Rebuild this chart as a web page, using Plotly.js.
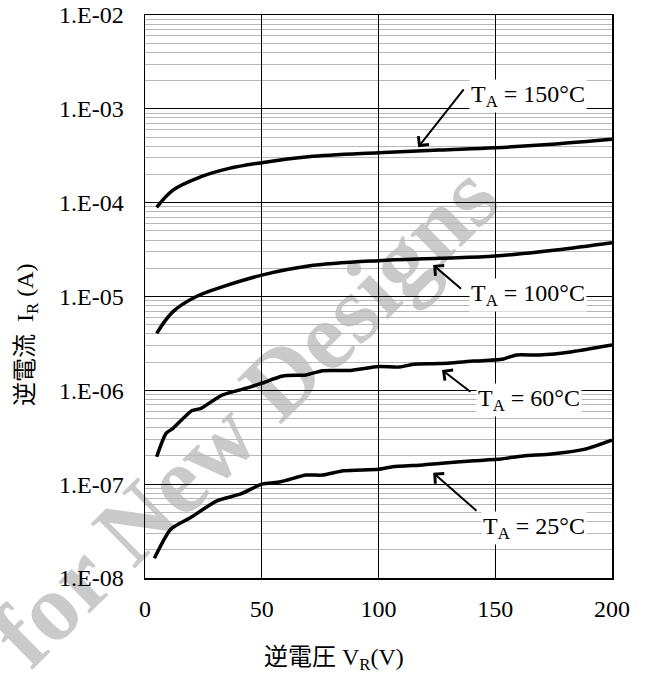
<!DOCTYPE html>
<html>
<head>
<meta charset="utf-8">
<script src="https://cdn.plot.ly/plotly-3.0.1.min.js"></script>
<style>html,body{margin:0;padding:0;background:#fff;}#chart{width:645px;height:678px;}</style>
</head>
<body>
<div id="chart"></div>
<script>
// Reverse voltage (V) and reverse current (A) per ambient temperature
const x150 = [5, 12, 24, 36, 50, 70, 100, 126, 150, 176, 200];
const y150 = [8.9e-5, 1.36e-4, 1.89e-4, 2.32e-4, 2.67e-4, 3.09e-4, 3.41e-4, 3.64e-4, 3.85e-4, 4.22e-4, 4.73e-4];

const x100 = [5, 12, 22, 34, 50, 70, 100, 126, 150, 176, 200];
const y100 = [4.05e-6, 6.9e-6, 1.0e-5, 1.29e-5, 1.69e-5, 2.11e-5, 2.41e-5, 2.55e-5, 2.7e-5, 3.13e-5, 3.74e-5];

const x60 = [5, 9, 12, 20, 24, 33, 45, 50, 59, 69, 76, 88, 100, 109, 115, 126, 141, 153, 159, 169, 183, 200];
const y60 = [1.96e-7, 3.48e-7, 3.94e-7, 6.07e-7, 6.43e-7, 8.9e-7, 1.08e-6, 1.19e-6, 1.42e-6, 1.46e-6, 1.62e-6, 1.63e-6, 1.79e-6, 1.77e-6, 1.9e-6, 1.93e-6, 2.05e-6, 2.14e-6, 2.38e-6, 2.38e-6, 2.58e-6, 3.04e-6];

const x25 = [4, 11, 19, 31, 41, 50, 58, 69, 76, 85, 100, 106, 119, 126, 141, 151, 162, 174, 188, 200];
const y25 = [1.62e-8, 3.31e-8, 4.33e-8, 6.67e-8, 7.86e-8, 1.0e-7, 1.06e-7, 1.25e-7, 1.25e-7, 1.39e-7, 1.44e-7, 1.53e-7, 1.6e-7, 1.66e-7, 1.78e-7, 1.84e-7, 2.0e-7, 2.1e-7, 2.35e-7, 2.95e-7];

const seriesNames = ['T<sub>A</sub> = 150°C', 'T<sub>A</sub> = 100°C', 'T<sub>A</sub> = 60°C', 'T<sub>A</sub> = 25°C'];

const yTickVals = [1e-8, 1e-7, 1e-6, 1e-5, 1e-4, 1e-3, 1e-2];
const yTickText = ['1.E-08', '1.E-07', '1.E-06', '1.E-05', '1.E-04', '1.E-03', '1.E-02'];
const xTickVals = [0, 50, 100, 150, 200];

// label text centre and arrow (head / tail) positions, per series
const labelPos = [[164, 1.37e-3], [164, 1.04e-5], [164.5, 7.9e-7], [166.6, 3.4e-8]];
const arrowHead = [[117, 3.9e-4], [123.4, 2.17e-5], [127.2, 1.65e-6], [123.4, 1.32e-7]];
const arrowTail = [[137, 1.67e-3], [136, 1.17e-5], [140, 9.4e-7], [142.6, 5.05e-8]];

const serif = 'Liberation Serif, Times New Roman, serif';
const cjk = 'Liberation Serif, Noto Sans CJK JP, serif';

const minorVals = [];
for (let d = -8; d < -2; d++) {
  for (let k = 2; k <= 9; k++) minorVals.push(k * Math.pow(10, d));
}

const lineStyle = {color: '#000', width: 3.5};
const traces = [
  {x: x150, y: y150, mode: 'lines', line: Object.assign({shape: 'spline', smoothing: 1}, lineStyle), name: seriesNames[0]},
  {x: x100, y: y100, mode: 'lines', line: Object.assign({shape: 'spline', smoothing: 1}, lineStyle), name: seriesNames[1]},
  {x: x60, y: y60, mode: 'lines', line: Object.assign({shape: 'spline', smoothing: 0.6}, lineStyle), name: seriesNames[2]},
  {x: x25, y: y25, mode: 'lines', line: Object.assign({shape: 'spline', smoothing: 0.6}, lineStyle), name: seriesNames[3]}
];

const annotations = [];
for (let i = 0; i < seriesNames.length; i++) {
  annotations.push({
    x: arrowHead[i][0], y: Math.log10(arrowHead[i][1]), xref: 'x', yref: 'y',
    ax: arrowTail[i][0], ay: Math.log10(arrowTail[i][1]), axref: 'x', ayref: 'y',
    text: '', showarrow: true, arrowhead: 4, arrowsize: 1.3, arrowwidth: 2, arrowcolor: '#000', standoff: 0
  });
  annotations.push({
    x: labelPos[i][0], y: Math.log10(labelPos[i][1]), xref: 'x', yref: 'y',
    text: seriesNames[i], showarrow: false, bgcolor: '#fff', borderpad: 1,
    font: {family: serif, size: 24, color: '#000'}
  });
}
annotations.push({
  x: (334 - 145) / 467, y: (578 - 659) / 563, xref: 'paper', yref: 'paper',
  xanchor: 'center', yanchor: 'middle',
  text: '逆電圧 V<sub>R</sub>(V)', showarrow: false,
  font: {family: cjk, size: 24, color: '#000'}
});
annotations.push({
  x: (27 - 145) / 467, y: (578 - 334) / 563, xref: 'paper', yref: 'paper',
  xanchor: 'center', yanchor: 'middle',
  text: '逆電流  I<sub>R</sub> (A)', showarrow: false, textangle: -90,
  font: {family: cjk, size: 24, color: '#000'}
});

const layout = {
  width: 645, height: 678,
  margin: {l: 145, r: 33, t: 15, b: 100},
  paper_bgcolor: '#fff', plot_bgcolor: '#fff',
  showlegend: false,
  xaxis: {
    range: [0, 200], tickvals: xTickVals, ticks: '', ticklabelstandoff: 9,
    showgrid: true, gridcolor: '#000', gridwidth: 1, zeroline: false,
    showline: true, linecolor: '#000', linewidth: 1.5, mirror: true,
    tickfont: {family: serif, size: 24, color: '#000'}
  },
  yaxis: {
    type: 'log', range: [-8, -2], tickvals: yTickVals, ticktext: yTickText, ticks: '',
    ticklabelstandoff: 15,
    showgrid: true, gridcolor: '#000', gridwidth: 1, zeroline: false,
    showline: true, linecolor: '#000', linewidth: 1.5, mirror: true,
    tickfont: {family: serif, size: 24, color: '#000'},
    minor: {tickmode: 'array', tickvals: minorVals, showgrid: true, gridcolor: '#b8b8b8', gridwidth: 1, ticks: ''}
  },
  shapes: [{
    type: 'line', xref: 'paper', yref: 'paper', layer: 'between',
    x0: (62 - 145) / 467, y0: (578 - 660) / 563, x1: (492 - 145) / 467, y1: (578 - 236) / 563,
    line: {width: 0, color: 'rgba(0,0,0,0)'},
    label: {text: 'for New Designs', textposition: 'middle', textangle: 'auto',
      font: {family: serif, size: 96, color: '#cacaca', weight: 'bold'}}
  }],
  annotations: annotations
};

Plotly.newPlot('chart', traces, layout, {staticPlot: true, displayModeBar: false});
</script>
</body>
</html>
